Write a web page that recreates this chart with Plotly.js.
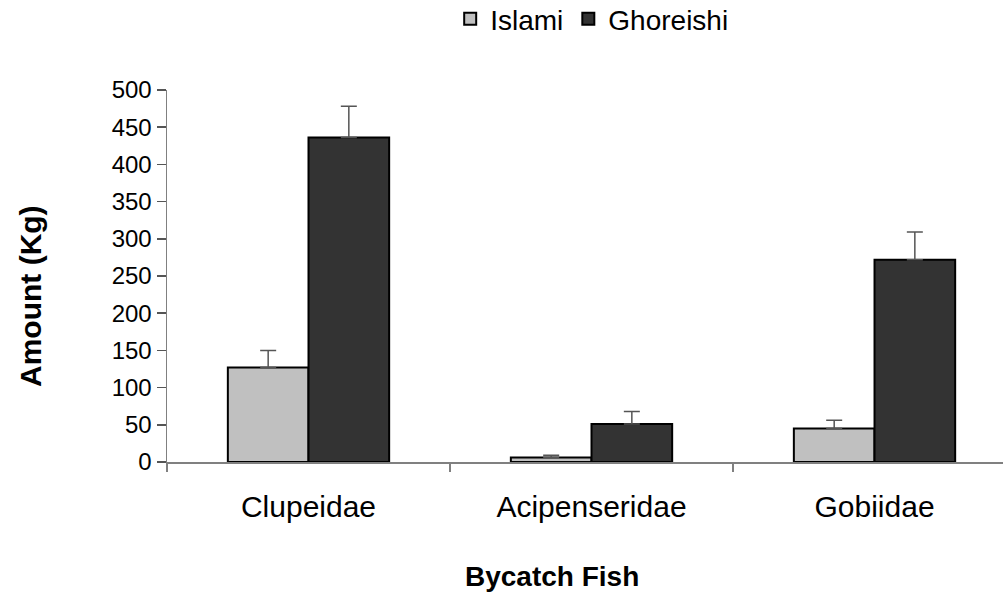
<!DOCTYPE html>
<html><head><meta charset="utf-8">
<script src="https://cdn.plot.ly/plotly-3.0.1.min.js"></script>
<style>html,body{margin:0;padding:0;background:#fff}</style>
</head><body>
<div id="chart" style="width:1003px;height:596px"></div>
<script>
var categories = ["Clupeidae", "Acipenseridae", "Gobiidae"];
var islami = [127, 6, 45];
var islamiErr = [23, 3, 11];
var ghoreishi = [436, 51, 272];
var ghoreishiErr = [42, 17, 37];
var zeros = [0, 0, 0];
var xTitle = "Bycatch Fish";
var yTitle = "Amount (Kg)";

var font = "Liberation Sans, Arial, sans-serif";
var traces = [
  {type:"bar", name:"Islami", x:categories, y:islami,
   marker:{color:"#c0c0c0", line:{color:"#000", width:2}},
   error_y:{type:"data", array:islamiErr, arrayminus:zeros, symmetric:false, color:"#555", thickness:1.5, width:8}},
  {type:"bar", name:"Ghoreishi", x:categories, y:ghoreishi,
   marker:{color:"#333333", line:{color:"#000", width:2}},
   error_y:{type:"data", array:ghoreishiErr, arrayminus:zeros, symmetric:false, color:"#555", thickness:1.5, width:8}}
];
var layout = {
  width:1003, height:596,
  margin:{l:167, r:0, t:90, b:134},
  paper_bgcolor:"#fff", plot_bgcolor:"#fff",
  font:{family:font, size:24, color:"#000"},
  barmode:"group", bargap:0.43, bargroupgap:0,
  showlegend:true,
  legend:{orientation:"h", x:0.508, xanchor:"center", yref:"container", y:1-19/596, yanchor:"middle",
          font:{family:font, size:28, color:"#000"}, tracegroupgap:0},
  xaxis:{type:"category", range:[-0.5, 2.454], showline:true, linecolor:"#808080", linewidth:1.5,
         ticks:"outside", tickson:"boundaries", ticklen:8, tickcolor:"#808080", tickwidth:1.5,
         showgrid:false, zeroline:false, ticklabelstandoff:17,
         tickfont:{family:font, size:30, color:"#000"}},
  yaxis:{range:[0,500], dtick:50, showline:true, linecolor:"#808080", linewidth:1.5,
         ticks:"outside", ticklen:9, tickcolor:"#555", tickwidth:1.5,
         showgrid:false, zeroline:false,
         tickfont:{family:font, size:24, color:"#000"}},
  annotations:[
    {text:"<b>"+xTitle+"</b>", xref:"paper", yref:"paper", x:(552-167)/836, y:-(576-462)/372,
     xanchor:"center", yanchor:"middle", showarrow:false, font:{family:font, size:28, color:"#000"}},
    {text:"<b>"+yTitle+"</b>", xref:"paper", yref:"paper", x:-(167-30)/836, y:(462-296)/372,
     xanchor:"center", yanchor:"middle", textangle:-90, showarrow:false, font:{family:font, size:30, color:"#000"}}
  ]
};
Plotly.newPlot("chart", traces, layout, {displayModeBar:false, staticPlot:true});
</script>
</body></html>
